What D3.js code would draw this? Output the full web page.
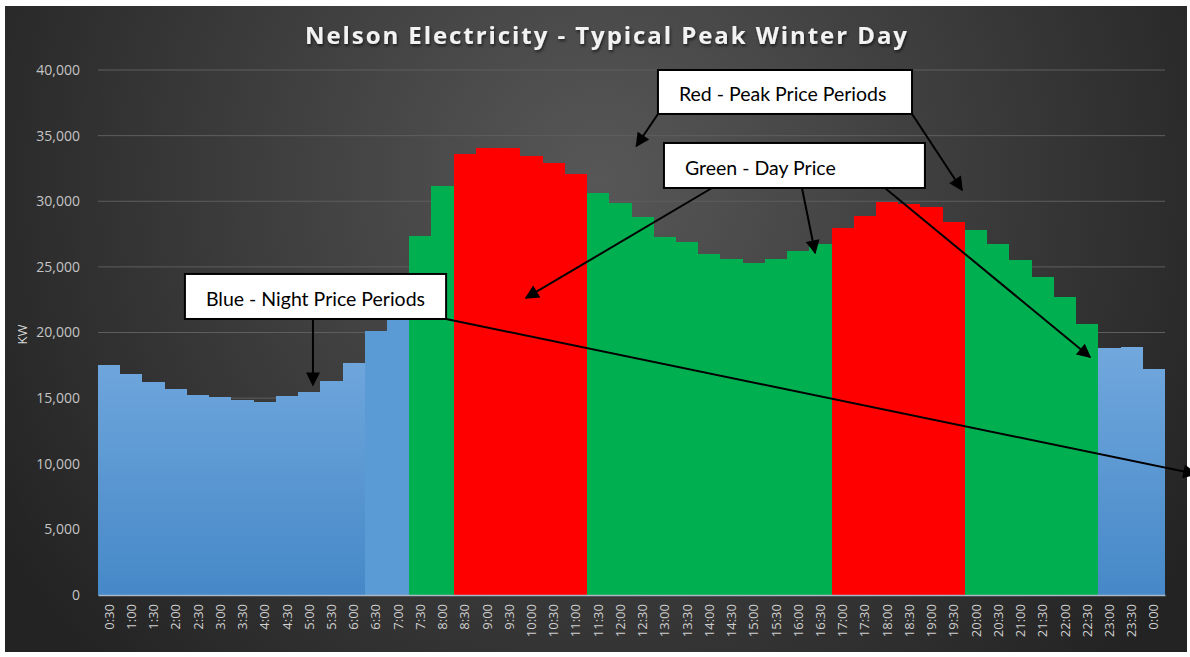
<!DOCTYPE html>
<html>
<head>
<meta charset="utf-8">
<script src="https://cdn.jsdelivr.net/npm/d3@7"></script>
<style>
  body { margin: 0; background: #ffffff; }
  svg { display: block; }
</style>
</head>
<body>
<svg id="chart" width="1190" height="657"></svg>
<script>
// half-hour periods, ending times
const times = ["0:30","1:00","1:30","2:00","2:30","3:00","3:30","4:00","4:30","5:00","5:30","6:00",
  "6:30","7:00","7:30","8:00","8:30","9:00","9:30","10:00","10:30","11:00","11:30","12:00",
  "12:30","13:00","13:30","14:00","14:30","15:00","15:30","16:00","16:30","17:00","17:30","18:00",
  "18:30","19:00","19:30","20:00","20:30","21:00","21:30","22:00","22:30","23:00","23:30","0:00"];

// load in kW
const loadKW = [17520, 16820, 16200, 15670, 15210, 15060, 14880, 14730, 15190, 15470, 16300, 17680,
  20120, 21000, 27350, 31160, 33580, 34080, 34080, 33470, 32890, 32050, 30650, 29890,
  28820, 27250, 26900, 25960, 25580, 25320, 25580, 26210, 26740, 27930, 28880, 29970,
  29770, 29590, 28440, 27810, 26740, 25520, 24250, 22730, 20650, 18790, 18870, 17240];

// tariff colour of each bar
const period = ["night","night","night","night","night","night","night","night","night","night","night","night",
  "shoulder","shoulder","day","day","peak","peak","peak","peak","peak","peak","day","day",
  "day","day","day","day","day","day","day","day","day","peak","peak","peak",
  "peak","peak","peak","day","day","day","day","day","day","night","night","night"];

const yTicks = [0, 5000, 10000, 15000, 20000, 25000, 30000, 35000, 40000];

// callout boxes: [x0, x1] in bar units, [top, bottom] in kW
const boxes = [
  { label: "Red - Peak Price Periods", x: [25.19, 36.62], y: [40000, 36650] },
  { label: "Green - Day Price", x: [25.46, 37.20], y: [34440, 31010] },
  { label: "Blue - Night Price Periods", x: [3.91, 15.66], y: [24460, 21030] }
];

// callout arrows: from -> to, same units
const arrows = [
  { from: [25.19, 36650], to: [24.22, 34210] },
  { from: [36.62, 36650], to: [38.87, 30860] },
  { from: [27.62, 31010], to: [19.25, 22630] },
  { from: [31.67, 31010], to: [32.26, 26060] },
  { from: [35.40, 31010], to: [44.63, 18130] },
  { from: [9.67, 21030], to: [9.67, 16000] },
  { from: [15.66, 21030], to: [49.39, 9220] }
];

const plot = { left: 98, right: 1165, top: 70, bottom: 595 };

const svg = d3.select("#chart");
const defs = svg.append("defs");

const bg = defs.append("radialGradient")
  .attr("id", "bgGrad")
  .attr("gradientUnits", "userSpaceOnUse")
  .attr("cx", 600).attr("cy", 180).attr("r", 700);
bg.append("stop").attr("offset", "0%").attr("stop-color", "#575757");
bg.append("stop").attr("offset", "100%").attr("stop-color", "#232323");

const blueGrad = defs.append("linearGradient")
  .attr("id", "blueGrad")
  .attr("gradientUnits", "userSpaceOnUse")
  .attr("x1", 0).attr("y1", 340).attr("x2", 0).attr("y2", 595);
blueGrad.append("stop").attr("offset", "0%").attr("stop-color", "#72a9de");
blueGrad.append("stop").attr("offset", "100%").attr("stop-color", "#4688c8");

const shadow = defs.append("filter").attr("id", "titleShadow")
  .attr("x", "-5%").attr("y", "-30%").attr("width", "110%").attr("height", "160%");
shadow.append("feDropShadow")
  .attr("dx", 1).attr("dy", 2).attr("stdDeviation", 1.5)
  .attr("flood-color", "#000").attr("flood-opacity", 0.6);

defs.append("marker")
  .attr("id", "arrowHead")
  .attr("viewBox", "0 0 10 10")
  .attr("refX", 9).attr("refY", 5)
  .attr("markerWidth", 8).attr("markerHeight", 7)
  .attr("markerUnits", "strokeWidth")
  .attr("orient", "auto")
  .append("path")
  .attr("d", "M0,0 L10,5 L0,10 Z")
  .attr("fill", "#000");

// chart background
svg.append("rect")
  .attr("x", 5).attr("y", 6)
  .attr("width", 1182).attr("height", 646)
  .attr("fill", "url(#bgGrad)");

const x = d3.scaleBand().domain(times).range([plot.left, plot.right]).padding(0);
const xPos = d3.scaleLinear().domain([0, times.length]).range([plot.left, plot.right]);
const y = d3.scaleLinear().domain([0, 40000]).range([plot.bottom, plot.top]);

const fillFor = {
  night: "url(#blueGrad)",
  shoulder: "#5b9bd5",
  day: "#00b050",
  peak: "#ff0000"
};

// gridlines
svg.append("g")
  .selectAll("line")
  .data(yTicks.filter(d => d > 0))
  .join("line")
  .attr("x1", plot.left).attr("x2", plot.right)
  .attr("y1", d => y(d)).attr("y2", d => y(d))
  .attr("stroke", "#5e5e5e")
  .attr("stroke-width", 1);

// bars, snapped to whole pixels so neighbours meet without seams
svg.append("g")
  .attr("shape-rendering", "crispEdges")
  .selectAll("rect")
  .data(times)
  .join("rect")
  .attr("x", d => Math.round(x(d)))
  .attr("width", d => Math.round(x(d) + x.bandwidth()) - Math.round(x(d)))
  .attr("y", (d, i) => Math.round(y(loadKW[i])))
  .attr("height", (d, i) => y(0) - Math.round(y(loadKW[i])))
  .attr("fill", (d, i) => fillFor[period[i]]);

// y axis
const yAxis = svg.append("g")
  .attr("transform", `translate(${plot.left - 15},0)`)
  .call(d3.axisLeft(y).tickValues(yTicks).tickSize(0).tickFormat(d3.format(",")));
yAxis.select(".domain").remove();
yAxis.selectAll("text")
  .attr("fill", "#c4c4c4")
  .style("font-family", "'Open Sans', 'Noto Sans', sans-serif")
  .style("font-size", "14px");

// x axis
const xAxis = svg.append("g")
  .attr("transform", `translate(0,${plot.bottom})`)
  .call(d3.axisBottom(x).tickSize(0));
xAxis.select(".domain").attr("stroke", "#a9b7c6").attr("stroke-width", 1.5);
xAxis.selectAll("text")
  .attr("fill", "#d0d0d0")
  .style("font-family", "'Open Sans', 'Noto Sans', sans-serif")
  .style("font-size", "13px")
  .attr("text-anchor", "end")
  .attr("transform", "rotate(-90)")
  .attr("x", -9)
  .attr("y", 0)
  .attr("dy", "0.35em");

// axis title
svg.append("text")
  .attr("transform", `translate(22,${(plot.top + plot.bottom) / 2 + 2}) rotate(-90)`)
  .attr("text-anchor", "middle")
  .attr("dy", "0.35em")
  .attr("fill", "#d9d9d9")
  .style("font-family", "'Open Sans', 'Noto Sans', sans-serif")
  .style("font-size", "13px")
  .text("KW");

// title
svg.append("text")
  .attr("x", 606)
  .attr("y", 44)
  .attr("text-anchor", "middle")
  .attr("fill", "#f2f2f2")
  .attr("filter", "url(#titleShadow)")
  .attr("textLength", 602)
  .attr("lengthAdjust", "spacing")
  .style("font-family", "'Open Sans', 'Noto Sans', sans-serif")
  .style("font-weight", "bold")
  .style("font-size", "24px")
  .text("Nelson Electricity - Typical Peak Winter Day");

// callout arrows
svg.append("g")
  .selectAll("line")
  .data(arrows)
  .join("line")
  .attr("x1", d => xPos(d.from[0])).attr("y1", d => y(d.from[1]))
  .attr("x2", d => xPos(d.to[0])).attr("y2", d => y(d.to[1]))
  .attr("stroke", "#000")
  .attr("stroke-width", 2)
  .attr("marker-end", "url(#arrowHead)");

// callout boxes
const callouts = svg.append("g")
  .selectAll("g")
  .data(boxes)
  .join("g");

callouts.append("rect")
  .attr("x", d => xPos(d.x[0]))
  .attr("y", d => y(d.y[0]))
  .attr("width", d => xPos(d.x[1]) - xPos(d.x[0]))
  .attr("height", d => y(d.y[1]) - y(d.y[0]))
  .attr("fill", "#fff")
  .attr("stroke", "#000")
  .attr("stroke-width", 2);

callouts.append("text")
  .attr("x", d => xPos(d.x[0]) + 21)
  .attr("y", d => (y(d.y[0]) + y(d.y[1])) / 2 + 2)
  .attr("text-anchor", "start")
  .attr("dominant-baseline", "central")
  .attr("fill", "#000")
  .style("font-family", "Lato, 'Open Sans', sans-serif")
  .style("font-size", "19.5px")
  .text(d => d.label);
</script>
</body>
</html>
